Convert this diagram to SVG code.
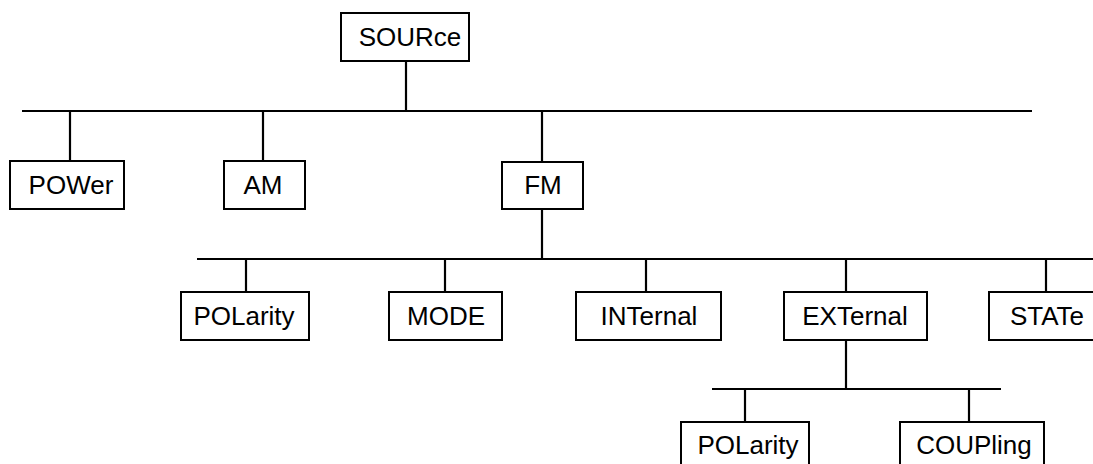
<svg xmlns="http://www.w3.org/2000/svg" width="1093" height="464" viewBox="0 0 1093 464">
<style>
rect{fill:#fff;stroke:#000;stroke-width:2}
line{stroke:#000;stroke-width:2.2}
text{font-family:"Liberation Sans",Arial,sans-serif;font-size:26px;fill:#000;text-anchor:middle}
</style>
<rect x="0" y="0" width="1093" height="464" style="stroke:none"/>
<g id="connectors">
<line x1="406" y1="61" x2="406" y2="111"/>
<line x1="22" y1="111" x2="1032" y2="111"/>
<line x1="70" y1="111" x2="70" y2="161"/>
<line x1="263" y1="111" x2="263" y2="161"/>
<line x1="542" y1="111" x2="542" y2="162"/>
<line x1="542" y1="209" x2="542" y2="259"/>
<line x1="197" y1="259" x2="1093" y2="259"/>
<line x1="246" y1="259" x2="246" y2="292"/>
<line x1="445" y1="259" x2="445" y2="292"/>
<line x1="646" y1="259" x2="646" y2="292"/>
<line x1="846" y1="259" x2="846" y2="292"/>
<line x1="1046" y1="259" x2="1046" y2="292"/>
<line x1="846" y1="340" x2="846" y2="389"/>
<line x1="712" y1="389" x2="1001" y2="389"/>
<line x1="745" y1="389" x2="745" y2="422"/>
<line x1="969" y1="389" x2="969" y2="422"/>
</g>
<g id="source"><rect x="341" y="13" width="128" height="48"/><text x="410" y="46">SOURce</text></g>
<g id="power"><rect x="10" y="161" width="114" height="48"/><text x="71" y="194">POWer</text></g>
<g id="am"><rect x="224" y="161" width="81" height="48"/><text x="263" y="194">AM</text></g>
<g id="fm"><rect x="502" y="162" width="81" height="47"/><text x="543" y="194">FM</text></g>
<g id="polarity1"><rect x="181" y="292" width="128" height="48"/><text x="244" y="325">POLarity</text></g>
<g id="mode"><rect x="389" y="292" width="113" height="48"/><text x="446" y="325">MODE</text></g>
<g id="internal"><rect x="576" y="292" width="145" height="48"/><text x="649" y="325">INTernal</text></g>
<g id="external"><rect x="784" y="292" width="143" height="48"/><text x="855" y="325">EXTernal</text></g>
<g id="state"><rect x="989" y="292" width="120" height="48"/><text x="1047" y="325">STATe</text></g>
<g id="polarity2"><rect x="681" y="422" width="128" height="48"/><text x="748" y="454">POLarity</text></g>
<g id="coupling"><rect x="900" y="422" width="144" height="48"/><text x="974" y="454">COUPling</text></g>
</svg>
